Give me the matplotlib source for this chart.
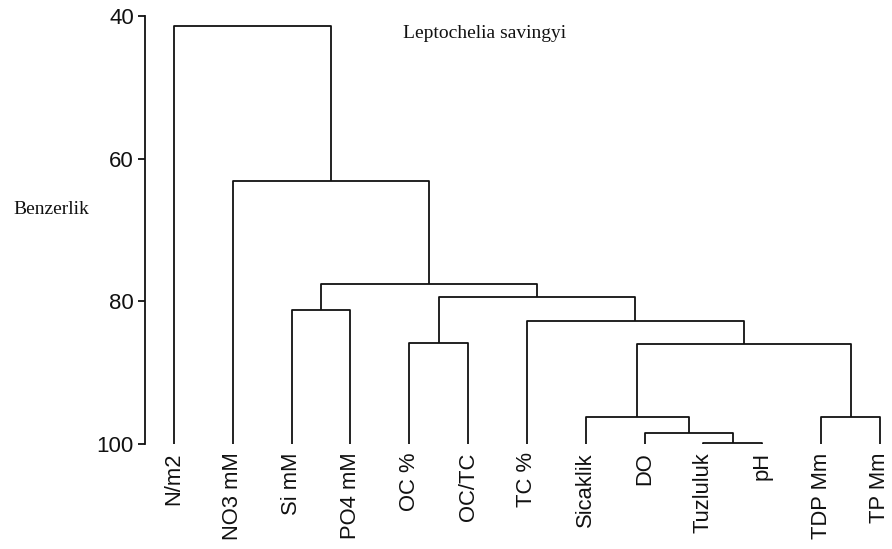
import matplotlib
matplotlib.use("Agg")
import matplotlib.pyplot as plt

# Leaf labels in dendrogram order
leaves = ["N/m2", "NO3 mM", "Si mM", "PO4 mM", "OC %", "OC/TC", "TC %",
          "Sicaklik", "DO", "Tuzluluk", "pH", "TDP Mm", "TP Mm"]

# Merges: (child a, child b, similarity level); new nodes numbered from 13
merge_a = [9, 8, 7, 11, 15, 6, 4, 19, 2, 21, 1, 0]
merge_b = [10, 13, 14, 12, 16, 17, 5, 18, 3, 20, 22, 23]
merge_h = [99.8, 98.5, 96.2, 96.2, 86.0, 82.8, 85.8, 79.4, 81.2, 77.6, 63.1, 41.4]

yticks = [40, 60, 80, 100]
leaf_level = 100

W, H = 892, 549
fig = plt.figure(figsize=(W / 100, H / 100), dpi=100)
ax_left_px, ax_right_px, ax_top_px, ax_bot_px = 145, 890, 16, 444
ax = fig.add_axes([ax_left_px / W, 1 - ax_bot_px / H,
                   (ax_right_px - ax_left_px) / W, (ax_bot_px - ax_top_px) / H])

n = len(leaves)
xpos = {i: float(i) for i in range(n)}
hpos = {i: float(leaf_level) for i in range(n)}
for k, (a, b, h) in enumerate(zip(merge_a, merge_b, merge_h)):
    node = n + k
    ax.plot([xpos[a], xpos[a], xpos[b], xpos[b]], [hpos[a], h, h, hpos[b]],
            color="#111111", lw=1.3, solid_capstyle="butt", clip_on=False)
    xpos[node] = (xpos[a] + xpos[b]) / 2
    hpos[node] = h

leaf0_px, step_px = 174, 58.83
ax.set_xlim((ax_left_px - leaf0_px) / step_px, (ax_right_px - leaf0_px) / step_px)
ax.set_ylim(100, 40)

for s in ["top", "right", "bottom"]:
    ax.spines[s].set_visible(False)
ax.spines["left"].set_linewidth(1.3)
ax.spines["left"].set_color("#111111")

ax.set_yticks(yticks)
ax.set_yticklabels([str(v) for v in yticks], fontsize=16, family="Liberation Sans", color="#111111")
ax.tick_params(axis="y", direction="out", length=5, width=1.3, pad=3, color="#111111")

ax.set_xticks(range(n))
ax.set_xticklabels(leaves, rotation=90, fontsize=15.8, family="Liberation Sans", color="#111111")
ax.tick_params(axis="x", length=0, pad=6)

fig.text(485 / W, 1 - 34 / H, "Leptochelia savingyi", family="Liberation Serif",
         fontsize=14, ha="center", va="center", color="#111111")
fig.text(13 / W, 1 - 210 / H, "Benzerlik", family="Liberation Serif",
         fontsize=14, ha="left", va="center", color="#111111")

fig.savefig("out.png", dpi=100)
